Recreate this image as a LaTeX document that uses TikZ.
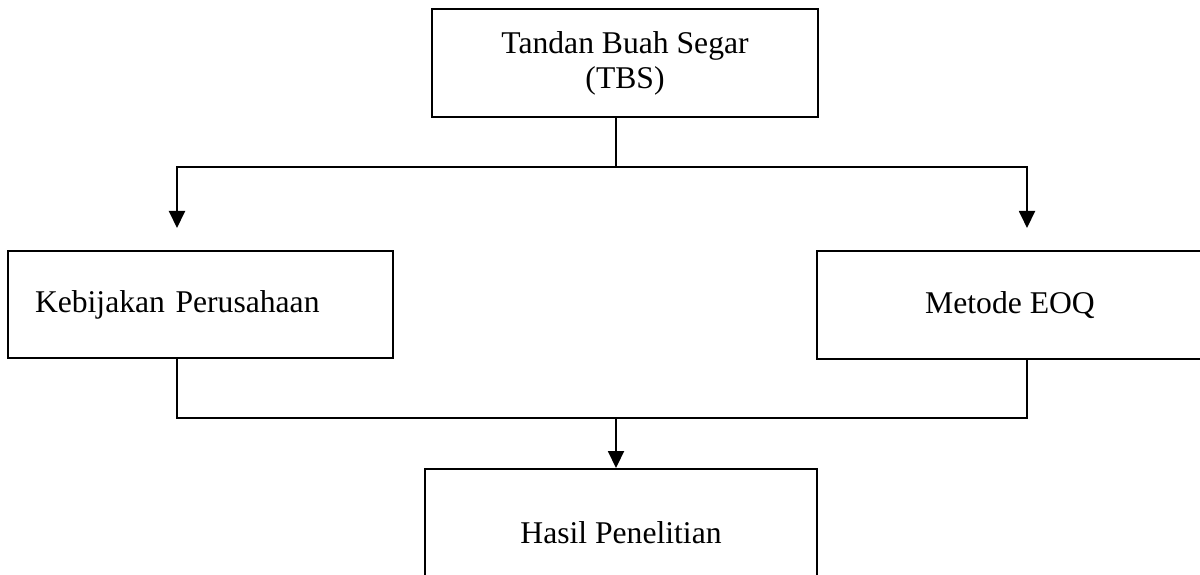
\documentclass[tikz,border=0pt]{standalone}
\usepackage{fontspec}
\setmainfont{Liberation Serif}
\usetikzlibrary{arrows.meta}
\begin{document}
\begin{tikzpicture}[
    every node/.style={
        draw,
        line width=1.1pt,
        align=center,
        inner sep=0pt,
        font=\fontsize{18}{20}\selectfont
    },
    line width=1.1pt,
    >={Triangle[length=0.34cm,width=0.32cm]}
]
\useasboundingbox (0,0) rectangle (24,-11.5);

% Source
\node (tbs) at (12.5,-1.26) [minimum width=7.72cm, minimum height=2.16cm]
{Tandan Buah Segar\\(TBS)};

% Methods
\node (policy) at (4.01,-6.09) [minimum height=2.14cm, text width=6.62cm,
    inner xsep=0.54cm, align=left]
{Kebijakan Perusahaan};

\node (eoq) at (20.2,-6.1) [minimum width=7.72cm, minimum height=2.16cm]
{Metode EOQ};

% Result
\node (result) at (12.42,-10.66) [minimum width=7.84cm, minimum height=2.56cm]
{Hasil Penelitian};

% Junctions
\coordinate (split) at (12.32,-3.34);
\coordinate (ldrop) at (3.54,-4.56);
\coordinate (rdrop) at (20.54,-4.56);
\coordinate (join) at (12.32,-8.36);

% Connections
\draw (split |- tbs.south) -- (split);
\draw[->] (split) -| (ldrop);
\draw[->] (split) -| (rdrop);

\draw (ldrop |- policy.south) |- (join);
\draw (rdrop |- eoq.south) |- (join);
\draw[->] (join) -- (join |- result.north);

\end{tikzpicture}
\end{document}
